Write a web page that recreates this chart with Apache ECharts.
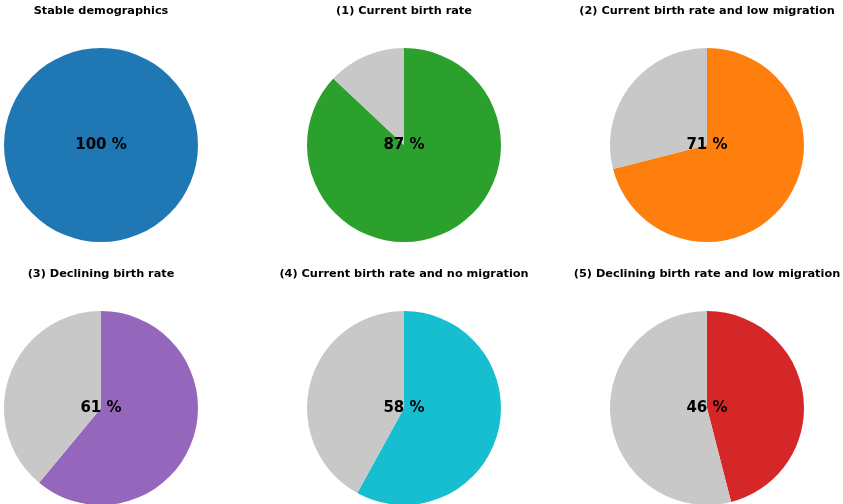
<!DOCTYPE html>
<html><head><meta charset="utf-8">
<script src="https://cdn.jsdelivr.net/npm/echarts@6/dist/echarts.min.js"></script>
<style>html,body{margin:0;padding:0;background:#fff}#c{width:843px;height:504px}</style>
</head><body><div id="c"></div>
<script>
const titles = ["Stable demographics","(1) Current birth rate","(2) Current birth rate and low migration","(3) Declining birth rate","(4) Current birth rate and no migration","(5) Declining birth rate and low migration"];
const shares = [100, 87, 71, 61, 58, 46];
const colors = ["#1f77b4","#2ca02c","#ff7f0e","#9467bd","#17becf","#d62728"];
const restColor = "#c8c8c8";

const cx = [101, 404, 707];
const cy = [145, 408];
const ty = [11, 274];
const R = 97;
const chart = echarts.init(document.getElementById('c'));
const title = [], series = [];
shares.forEach((v, i) => {
  const col = i % 3, row = Math.floor(i / 3);
  title.push({text: titles[i], left: cx[col], top: ty[row], textAlign: 'center', textVerticalAlign: 'middle', padding: 0,
    textStyle: {fontFamily: 'DejaVu Sans', fontWeight: 'bold', fontSize: 11.3, color: '#000'}});
  const data = [{value: v, name: 'share', itemStyle: {color: colors[i]},
    label: {show: true, position: 'center', formatter: v + ' %', fontFamily: 'DejaVu Sans', fontWeight: 'bold', fontSize: 15, color: '#000'}}];
  if (v < 100) data.push({value: 100 - v, name: 'rest', itemStyle: {color: restColor}, label: {show: false}});
  series.push({type: 'pie', center: [cx[col], cy[row]], radius: [0, R], startAngle: 90, clockwise: true,
    silent: true, animation: false, labelLine: {show: false}, emphasis: {disabled: true},
    itemStyle: {borderWidth: 0}, data});
});
chart.setOption({title, series});
</script></body></html>
